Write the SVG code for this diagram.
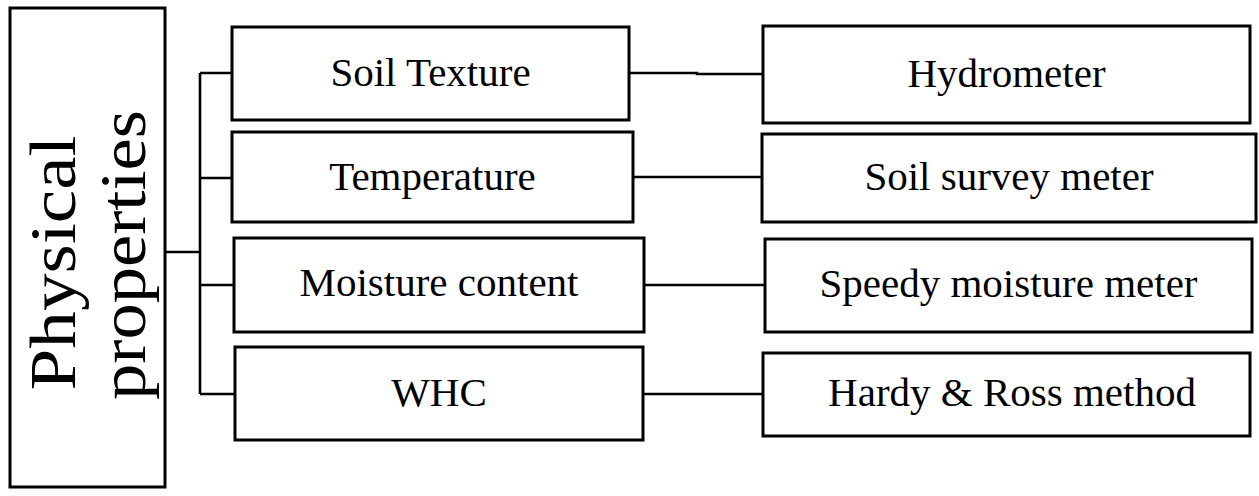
<svg xmlns="http://www.w3.org/2000/svg" width="1259" height="496" viewBox="0 0 1259 496">
  <style>
    .box { fill: #ffffff; stroke: #000000; stroke-width: 3; }
    .wire { fill: none; stroke: #000000; stroke-width: 2.6; }
    .label { font-family: "Liberation Serif", "Times New Roman", serif; font-size: 41px; fill: #000000; text-anchor: middle; }
    .title { font-family: "Liberation Serif", "Times New Roman", serif; font-size: 65px; fill: #000000; text-anchor: middle; }
  </style>
  <rect width="1259" height="496" fill="#ffffff"/>

  <!-- connectors -->
  <g id="connectors">
    <path class="wire" d="M165 252 H200 M200 73 V394 M200 73 H232 M200 178 H232 M200 285 H234 M200 394 H235"/>
    <path class="wire" d="M629 73 H697 V74 H763"/>
    <path class="wire" d="M633 177 H762"/>
    <path class="wire" d="M644 285 H765"/>
    <path class="wire" d="M643 394 H763"/>
  </g>

  <!-- root node -->
  <g id="physical-properties">
    <rect class="box" x="10" y="8" width="155" height="479"/>
    <text class="title" transform="translate(75 263) rotate(-90)" textLength="255" lengthAdjust="spacingAndGlyphs">Physical</text>
    <text class="title" transform="translate(145 255) rotate(-90)" textLength="290" lengthAdjust="spacingAndGlyphs">properties</text>
  </g>

  <!-- properties -->
  <g id="soil-texture">
    <rect class="box" x="232" y="27" width="397" height="93"/>
    <text class="label" x="430.5" y="86">Soil Texture</text>
  </g>
  <g id="temperature">
    <rect class="box" x="232" y="132" width="401" height="90"/>
    <text class="label" x="432.5" y="190">Temperature</text>
  </g>
  <g id="moisture-content">
    <rect class="box" x="234" y="238" width="410" height="94"/>
    <text class="label" x="439" y="296">Moisture content</text>
  </g>
  <g id="whc">
    <rect class="box" x="235" y="347" width="408" height="93"/>
    <text class="label" x="439" y="406">WHC</text>
  </g>

  <!-- methods -->
  <g id="hydrometer">
    <rect class="box" x="763" y="26" width="487" height="97"/>
    <text class="label" x="1006.5" y="87">Hydrometer</text>
  </g>
  <g id="soil-survey-meter">
    <rect class="box" x="762" y="134" width="494" height="88"/>
    <text class="label" x="1009" y="190">Soil survey meter</text>
  </g>
  <g id="speedy-moisture-meter">
    <rect class="box" x="765" y="239" width="487" height="93"/>
    <text class="label" x="1008.5" y="297">Speedy moisture meter</text>
  </g>
  <g id="hardy-ross-method">
    <rect class="box" x="763" y="353" width="487" height="83"/>
    <text class="label" x="1012" y="406">Hardy &amp; Ross method</text>
  </g>
</svg>
